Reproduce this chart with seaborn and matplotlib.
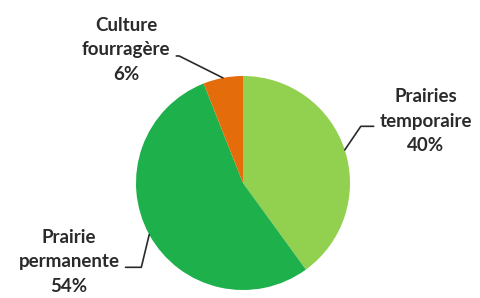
import numpy as np
import matplotlib
matplotlib.use("Agg")
import matplotlib.pyplot as plt
import seaborn as sns

labels = ["Prairies\ntemporaire", "Prairie\npermanente", "Culture\nfourragère"]
shares = [40, 54, 6]
colors = ["#92D050", "#1DB04B", "#E46C0A"]

sns.set_style("white")
plt.rcParams['font.family'] = ['Lato', 'DejaVu Sans']

W, H = 480, 298
fig = plt.figure(figsize=(W / 100, H / 100), dpi=100)
ax = fig.add_axes([0, 0, 1, 1])

# pie centre (243, 183) px, radius 107 px
cx, cy, r = 243, 183, 107
wedges, _ = ax.pie(shares, colors=colors, startangle=90, counterclock=False,
                   wedgeprops=dict(linewidth=0))
ax.set_xlim(-cx / r, (W - cx) / r)
ax.set_ylim((cy - H) / r, cy / r)
ax.set_aspect('auto')
ax.axis('off')

# label centre (figure px), relpos on text, leader angle
label_pos = [(426, 177), (69, 36), (126, 248)]
relpos = [(0.0, 0.42), (1.0, 0.42), (1.0, 0.41)]
lead_angle = [55.8, 76.4, -26.6]

for w, lab, s, pos, rp, ang in zip(wedges, labels, shares, label_pos, relpos, lead_angle):
    theta = np.deg2rad((w.theta1 + w.theta2) / 2)
    xy = (np.cos(theta), np.sin(theta))
    ax.annotate(f"{lab}\n{s}%", xy=xy, xycoords='data',
                xytext=pos, textcoords='figure pixels',
                ha='center', va='center', multialignment='center',
                fontsize=13.5, fontweight='bold', color='#2a2a2a', linespacing=1.55,
                arrowprops=dict(arrowstyle='-', color='#2a2a2a', lw=1.2,
                                shrinkA=2, shrinkB=0, relpos=rp,
                                connectionstyle=f"angle,angleA=0,angleB={ang},rad=0"))

fig.savefig("out.png", dpi=100)
